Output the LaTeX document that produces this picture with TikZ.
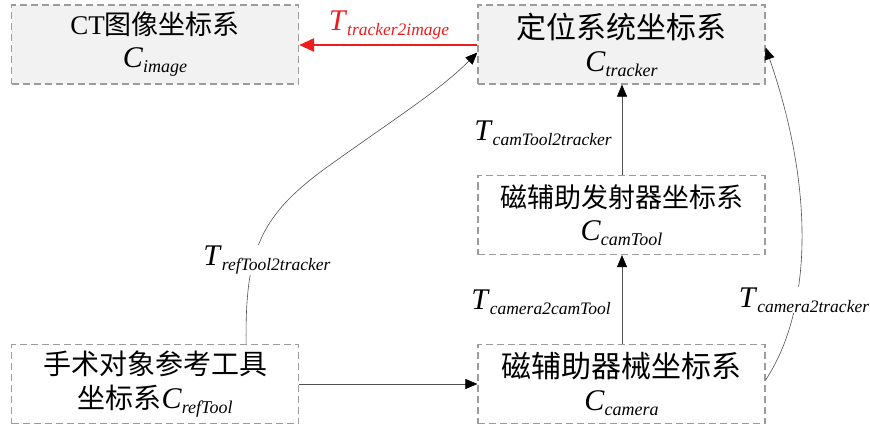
\documentclass[tikz,border=0pt]{standalone}
\usepackage{fontspec}
\setmainfont{Liberation Serif}
\newfontfamily\cjk{Noto Sans CJK SC}
\usetikzlibrary{arrows.meta,calc}
\newcommand\Tsym[2]{\textit{#1}\raisebox{-5pt}{\fontsize{17.5}{18}\selectfont\textit{#2}}}
\newcommand\Csym[2]{{\fontsize{30}{30}\selectfont\textit{#1}}\raisebox{-5pt}{\fontsize{18}{18}\selectfont\textit{#2}}}
\definecolor{boxgray}{HTML}{F2F2F2}
\definecolor{bordergray}{HTML}{9C9C9C}
\definecolor{linegray}{HTML}{505050}
\definecolor{redarrow}{HTML}{EE1C1C}
\tikzset{
  cbox/.style={draw=bordergray, line width=1.2pt, dash pattern=on 7pt off 4pt,
    minimum width=287pt, minimum height=79pt, inner sep=0pt, align=center,
    font=\fontsize{30}{33}\selectfont},
  shaded/.style={fill=boxgray},
  conn/.style={draw=linegray, line width=0.6pt, -{Triangle[length=12pt,width=10pt,fill=black,color=black]}},
  redconn/.style={draw=redarrow, line width=2.4pt, -{Triangle[length=15pt,width=13pt,fill=redarrow]}},
  tlabel/.style={font=\fontsize{30}{30}\selectfont, inner sep=1pt, fill=white},
}
\begin{document}
\begin{tikzpicture}[x=1pt,y=-1pt]
\useasboundingbox (0,0) rectangle (870,425);
\node[cbox,shaded,font=\fontsize{27}{33}\selectfont] (ct) at (155,44.5) {CT{\cjk 图像坐标系}\\\Csym{C}{image}};
\node[cbox,shaded] (tr) at (621.5,44.5) {{\cjk 定位系统坐标系}\\\Csym{C}{tracker}};
\node[cbox,font=\fontsize{27}{33}\selectfont] (ctool) at (621.5,215) {{\cjk 磁辅助发射器坐标系}\\\Csym{C}{camTool}};
\node[cbox] (cam) at (621.5,384) {{\cjk 磁辅助器械坐标系}\\\Csym{C}{camera}};
\node[cbox,font=\fontsize{28}{34}\selectfont] (ref) at (155,384) {{\cjk 手术对象参考工具}\\{\cjk 坐标系}\Csym{C}{refTool}};

\draw[redconn] (tr.west |- 0,45) -- (ct.east |- 0,45);
\node[tlabel, text=redarrow, fill=none] (lred) at (389,25) {\Tsym{T}{tracker2image}};

\draw[conn] (ctool.north -| 622,0) -- (tr.south -| 622,0);
\node[tlabel] (l1) at (543,133) {\Tsym{T}{camTool2tracker}};

\draw[conn] (cam.north -| 622,0) -- (ctool.south -| 622,0);
\node[tlabel] (l2) at (541,302) {\Tsym{T}{camera2camTool}};

\draw[conn] (ref.east |- 0,384) -- (cam.west |- 0,384);

\draw[conn] ([xshift=-53pt]ref.north east) .. controls (245,250) and (260,215) .. (330,165)
   .. controls (400,115) and (440,90) .. ([yshift=-8pt]tr.west);
\node[tlabel] (l3) at (267,260) {\Tsym{T}{refTool2tracker}};

\draw[conn] ([yshift=4pt]cam.east) .. controls (812,310) and (815,190) .. ([yshift=-3pt]tr.east);
\node[tlabel] (l4) at (804,300) {\Tsym{T}{camera2tracker}};
\end{tikzpicture}
\end{document}
